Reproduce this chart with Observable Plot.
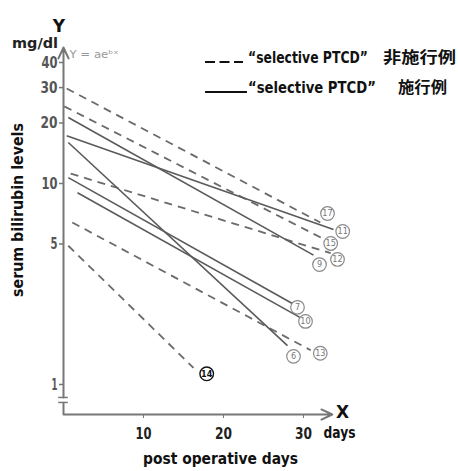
<!DOCTYPE html>
<html><head><meta charset="utf-8">
<script src="https://cdn.jsdelivr.net/npm/d3@7"></script>
<script src="https://cdn.jsdelivr.net/npm/@observablehq/plot@0.6"></script>
<style>
html,body{margin:0;padding:0;background:#fff;}
#chart svg{display:block;}
</style></head><body><div id="chart"></div>
<script>
// ---- data ----
const patients    = ["17","15","12","13","14","11","9","6","7","10"];
const treatment   = ["non","non","non","non","non","ptcd","ptcd","ptcd","ptcd","ptcd"];
const startDay    = [0.4, 0.1, 0.9, 1.1, 0.6, 0.4, 0.6, 0.6, 0.6, 1.75];
const startLevel  = [29.7, 24.2, 11.2, 6.4, 4.9, 17.3, 21.3, 16.0, 10.7, 9.0];
const endDay      = [32.1, 32.5, 33.4, 30.9, 16.25, 33.75, 31.25, 28.0, 28.6, 29.6];
const endLevel    = [6.4, 5.3, 4.5, 1.48, 1.21, 5.9, 4.4, 1.56, 2.53, 2.15];
const labelDay    = [33.0, 33.4, 34.25, 32.1, 17.9, 34.9, 32.0, 28.75, 29.25, 30.25];
const labelLevel  = [7.09, 5.03, 4.19, 1.43, 1.13, 5.77, 3.95, 1.38, 2.42, 2.06];
const yTicks = [1, 5, 10, 20, 30, 40];
const xTicks = [10, 20, 30];
const legendLabels = ["\u201Cselective PTCD\u201D", "\u201Cselective PTCD\u201D"];
const legendJapanese = ["非施行例", "施行例"];
const legendKind = ["non", "ptcd"];
// axis geometry in data units
const yAxisBottom = 0.709, breakLow = 0.814, breakHigh = 0.862, yAxisTop = 47.5, xAxisEnd = 33.6;

const rows = patients.map((p, i) => ({p, t: treatment[i], x1: startDay[i], y1: startLevel[i],
  x2: endDay[i], y2: endLevel[i], lx: labelDay[i], ly: labelLevel[i]}));

const font = '"DejaVu Sans",sans-serif';
const lineGrey = "#6a6a6a";

const legendMark = (index, scales, values, dims) => {
  const g = d3.create("svg:g").attr("font-family", font).attr("font-weight", "bold")
    .attr("text-anchor", "start");
  const rowsY = [62, 92];
  const enLen = [120, 128];
  const jaX = [383, 398], jaLen = [73, 49];
  legendKind.forEach((k, i) => {
    const y = rowsY[i];
    g.append("line").attr("x1", 205).attr("x2", k === "non" ? 243 : 247)
      .attr("y1", y).attr("y2", y).attr("stroke", "#111").attr("stroke-width", 2.2)
      .attr("stroke-dasharray", k === "non" ? "10,4.5" : null);
    g.append("text").attr("transform", `translate(248,${y + 1})`).attr("font-size", 15)
      .attr("class", "condense").attr("data-len", enLen[i])
      .attr("fill", "#111").text(legendLabels[i]);
    g.append("text").attr("transform", `translate(${jaX[i]},${y + 1})`)
      .attr("font-family", '"Noto Sans CJK JP",sans-serif').attr("font-size", 16)
      .attr("class", "condense").attr("data-len", jaLen[i])
      .attr("fill", "#111").text(legendJapanese[i]);
  });
  return g.node();
};

// vertical axis title drawn as a condensed rotated text
const yTitleMark = (index, scales, values, dims) => {
  const cx = dims.marginLeft - 46, cy = (dims.marginTop + dims.height - dims.marginBottom) / 2 - 28;
  const g = d3.create("svg:g");
  g.append("text").attr("transform", `translate(${cx},${cy}) rotate(-90)`)
    .attr("text-anchor", "middle").attr("dominant-baseline", "central")
    .attr("font-family", font).attr("font-weight", "bold").attr("font-size", 15).attr("fill", "#111")
    .attr("class", "condense").attr("data-len", 174)
    .text("serum bilirubin levels");
  return g.node();
};

// "mg/dl" unit label, condensed, above the top tick
const unitMark = (index, scales, values, dims) => {
  const g = d3.create("svg:g");
  g.append("text").attr("transform", `translate(${dims.marginLeft - 5},${dims.marginTop - 19})`)
    .attr("text-anchor", "end").attr("dominant-baseline", "central")
    .attr("font-family", font).attr("font-weight", "bold").attr("font-size", 14.5).attr("fill", "#222")
    .attr("class", "condense").attr("data-len", 46)
    .text("mg/dl");
  return g.node();
};

const chart = Plot.plot({
  width: 458, height: 471,
  marginLeft: 63, marginRight: 75, marginTop: 62, marginBottom: 57,
  style: {fontFamily: font, background: "white"},
  x: {domain: [0, 40], axis: null},
  y: {type: "log", domain: [yAxisBottom, 40], axis: null},
  marks: [
    // axes
    Plot.axisY(yTicks, {tickSize: 4, tickPadding: 2, tickFormat: d => String(d), fontSize: 16,
      fontWeight: "bold", fill: "#555", stroke: "#777", strokeWidth: 1.5, label: null}),
    Plot.axisX(xTicks, {anchor: "bottom", tickSize: 4, tickPadding: 9, fontSize: 16,
      fontWeight: "bold", fill: "#222", stroke: "#777", label: null}),
    Plot.ruleX([0], {y1: yAxisBottom, y2: breakLow, stroke: "#777", strokeWidth: 2}),
    Plot.arrow([{a: 0, b: breakHigh, c: 0, d: yAxisTop}], {x1: "a", y1: "b", x2: "c", y2: "d",
      stroke: "#777", strokeWidth: 2, headLength: 9, headAngle: 50}),
    Plot.arrow([{a: 0, b: yAxisBottom, c: xAxisEnd, d: yAxisBottom}], {x1: "a", y1: "b", x2: "c", y2: "d",
      stroke: "#777", strokeWidth: 2, headLength: 9, headAngle: 50}),
    Plot.ruleY([breakLow, breakHigh], {x1: -0.6, x2: 0.6, stroke: "#777", strokeWidth: 1.5}),
    // regression lines
    Plot.link(rows.filter(d => d.t === "non"), {x1: "x1", y1: "y1", x2: "x2", y2: "y2",
      stroke: lineGrey, strokeWidth: 1.8, strokeDasharray: "8,6"}),
    Plot.link(rows.filter(d => d.t === "ptcd"), {x1: "x1", y1: "y1", x2: "x2", y2: "y2",
      stroke: "#5a5a5a", strokeWidth: 1.6}),
    // circled case numbers
    Plot.dot(rows.filter(d => d.p !== "14"), {x: "lx", y: "ly", r: 6.8, fill: "white", stroke: "#8a8a8a", strokeWidth: 1.2}),
    Plot.dot(rows.filter(d => d.p === "14"), {x: "lx", y: "ly", r: 6.8, fill: "white", stroke: "#111", strokeWidth: 1.4}),
    Plot.text(rows.filter(d => d.p !== "14"), {x: "lx", y: "ly", text: "p", fontSize: 9, fill: "#777",
      fontFamily: '"DejaVu Sans Condensed",sans-serif'}),
    Plot.text(rows.filter(d => d.p === "14"), {x: "lx", y: "ly", text: "p", fontSize: 9, fill: "#111", fontWeight: "bold",
      fontFamily: '"DejaVu Sans Condensed",sans-serif'}),
    // annotations
    Plot.text(["Y"], {frameAnchor: "top-left", textAnchor: "middle", dx: -4.5, dy: -43, fontSize: 17, fontWeight: "bold", fill: "#111"}),
    unitMark,
    Plot.text(["Y = ae\u1D47\u02E3"], {frameAnchor: "top-left", dx: 6, dy: -12, textAnchor: "start", fontSize: 11, fill: "#999"}),
    yTitleMark,
    Plot.text(["post operative days"], {frameAnchor: "bottom", textAnchor: "middle", dx: -3, dy: 49, fontSize: 15, fontWeight: "bold", fill: "#111"}),
    Plot.text(["X"], {frameAnchor: "bottom-right", textAnchor: "middle", dx: -41, dy: 3, fontSize: 17, fontWeight: "bold", fill: "#111"}),
    Plot.text(["days"], {frameAnchor: "bottom-right", textAnchor: "middle", dx: -44, dy: 23, fontSize: 16, fontWeight: "bold", fill: "#111"}),
    legendMark
  ]
});

document.getElementById("chart").appendChild(chart);

// condense own texts by a horizontal scale (keeps bounding boxes honest)
d3.select(chart).selectAll("text.condense").each(function() {
  const natural = this.getComputedTextLength();
  const target = +this.getAttribute("data-len");
  if (natural > 0) this.setAttribute("transform", this.getAttribute("transform") + ` scale(${target / natural},1)`);
});
// condense Plot texts to the narrow widths of the original typeface
const targetLength = {
  "post operative days": 155, "days": 32,
  "Y = ae\u1D47\u02E3": 49, "40": 16, "30": 17, "20": 17, "10": 16, "5": 7, "1": 6
};
d3.select(chart).selectAll("text").each(function() {
  if (this.classList.contains("condense")) return;
  const t = this.textContent;
  const fs = parseFloat(getComputedStyle(this).fontSize);
  if (fs > 10 && targetLength[t] && !this.hasAttribute("textLength")) {
    const target = this.querySelector("tspan") || this;
    d3.select(target).attr("textLength", targetLength[t]).attr("lengthAdjust", "spacingAndGlyphs");
  }
});
</script>
</body></html>
